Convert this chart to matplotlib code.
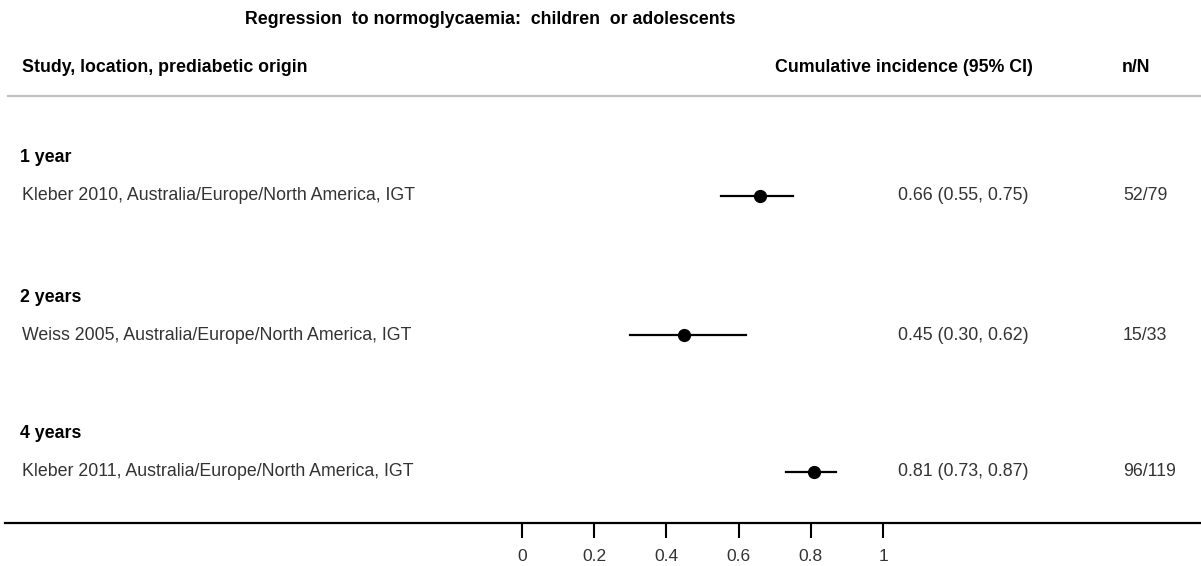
import matplotlib
matplotlib.use("Agg")
import matplotlib.pyplot as plt

plt.rcParams["font.family"] = ["Liberation Sans", "DejaVu Sans"]

# data
groups = ["1 year", "2 years", "4 years"]
studies = [
    "Kleber 2010, Australia/Europe/North America, IGT",
    "Weiss 2005, Australia/Europe/North America, IGT",
    "Kleber 2011, Australia/Europe/North America, IGT",
]
estimates = [0.66, 0.45, 0.81]
lower = [0.55, 0.30, 0.73]
upper = [0.75, 0.62, 0.87]
n_events = [52, 15, 96]
n_total = [79, 33, 119]

W, H = 1201, 566
fig = plt.figure(figsize=(W / 100, H / 100), dpi=100)

# axes spans the plot region; y in pixel rows from top
ax_left, ax_right, ax_bottom = 5, 1201, 523
ax = fig.add_axes([ax_left / W, 1 - ax_bottom / H, (ax_right - ax_left) / W, ax_bottom / H])
zero_px, one_px = 522, 883
scale = one_px - zero_px
ax.set_xlim((ax_left - zero_px) / scale, (ax_right - zero_px) / scale)
ax.set_ylim(ax_bottom, 0)

for s in ("top", "left", "right"):
    ax.spines[s].set_visible(False)
ax.spines["bottom"].set_linewidth(1.6)
ax.set_yticks([])
ax.set_xticks([0, 0.2, 0.4, 0.6, 0.8, 1])
ax.set_xticklabels(["0", "0.2", "0.4", "0.6", "0.8", "1"])
ax.tick_params(axis="x", direction="out", length=11, width=1.5, pad=8,
               labelsize=12.5, labelcolor="#333333")
ax.patch.set_alpha(0)

row_y = [196, 335, 472]
head_y = [158, 297, 434]

for i in range(len(studies)):
    ax.plot([lower[i], upper[i]], [row_y[i], row_y[i]], color="black", lw=1.6)
    ax.plot(estimates[i], row_y[i], "o", color="black", ms=8.5)


def px(x, y):
    return x / W, 1 - y / H


fs = 12.8
fig.text(*px(245, 19), "Regression  to normoglycaemia:  children  or adolescents",
         ha="left", va="center", fontsize=fs, fontweight="bold")
fig.text(*px(22, 68), "Study, location, prediabetic origin", ha="left", va="center",
         fontsize=fs, fontweight="bold")
fig.text(*px(904, 68), "Cumulative incidence (95% CI)", ha="center", va="center",
         fontsize=fs, fontweight="bold")
fig.text(*px(1136, 68), "n/N", ha="center", va="center", fontsize=fs, fontweight="bold")
fig.add_artist(plt.Line2D([8 / W, 1], [1 - 96 / H, 1 - 96 / H], color="#c0c0c0", lw=1.6))

for i in range(len(studies)):
    fig.text(*px(20, head_y[i]), groups[i], ha="left", va="center",
             fontsize=fs, fontweight="bold")
    fig.text(*px(22, row_y[i]), studies[i], ha="left", va="center",
             fontsize=fs, color="#333333")
    fig.text(*px(898, row_y[i]), f"{estimates[i]:.2f} ({lower[i]:.2f}, {upper[i]:.2f})",
             ha="left", va="center", fontsize=fs, color="#333333")
    fig.text(*px(1123, row_y[i]), f"{n_events[i]}/{n_total[i]}", ha="left", va="center",
             fontsize=fs, color="#333333")

fig.savefig("out.png", dpi=100)
